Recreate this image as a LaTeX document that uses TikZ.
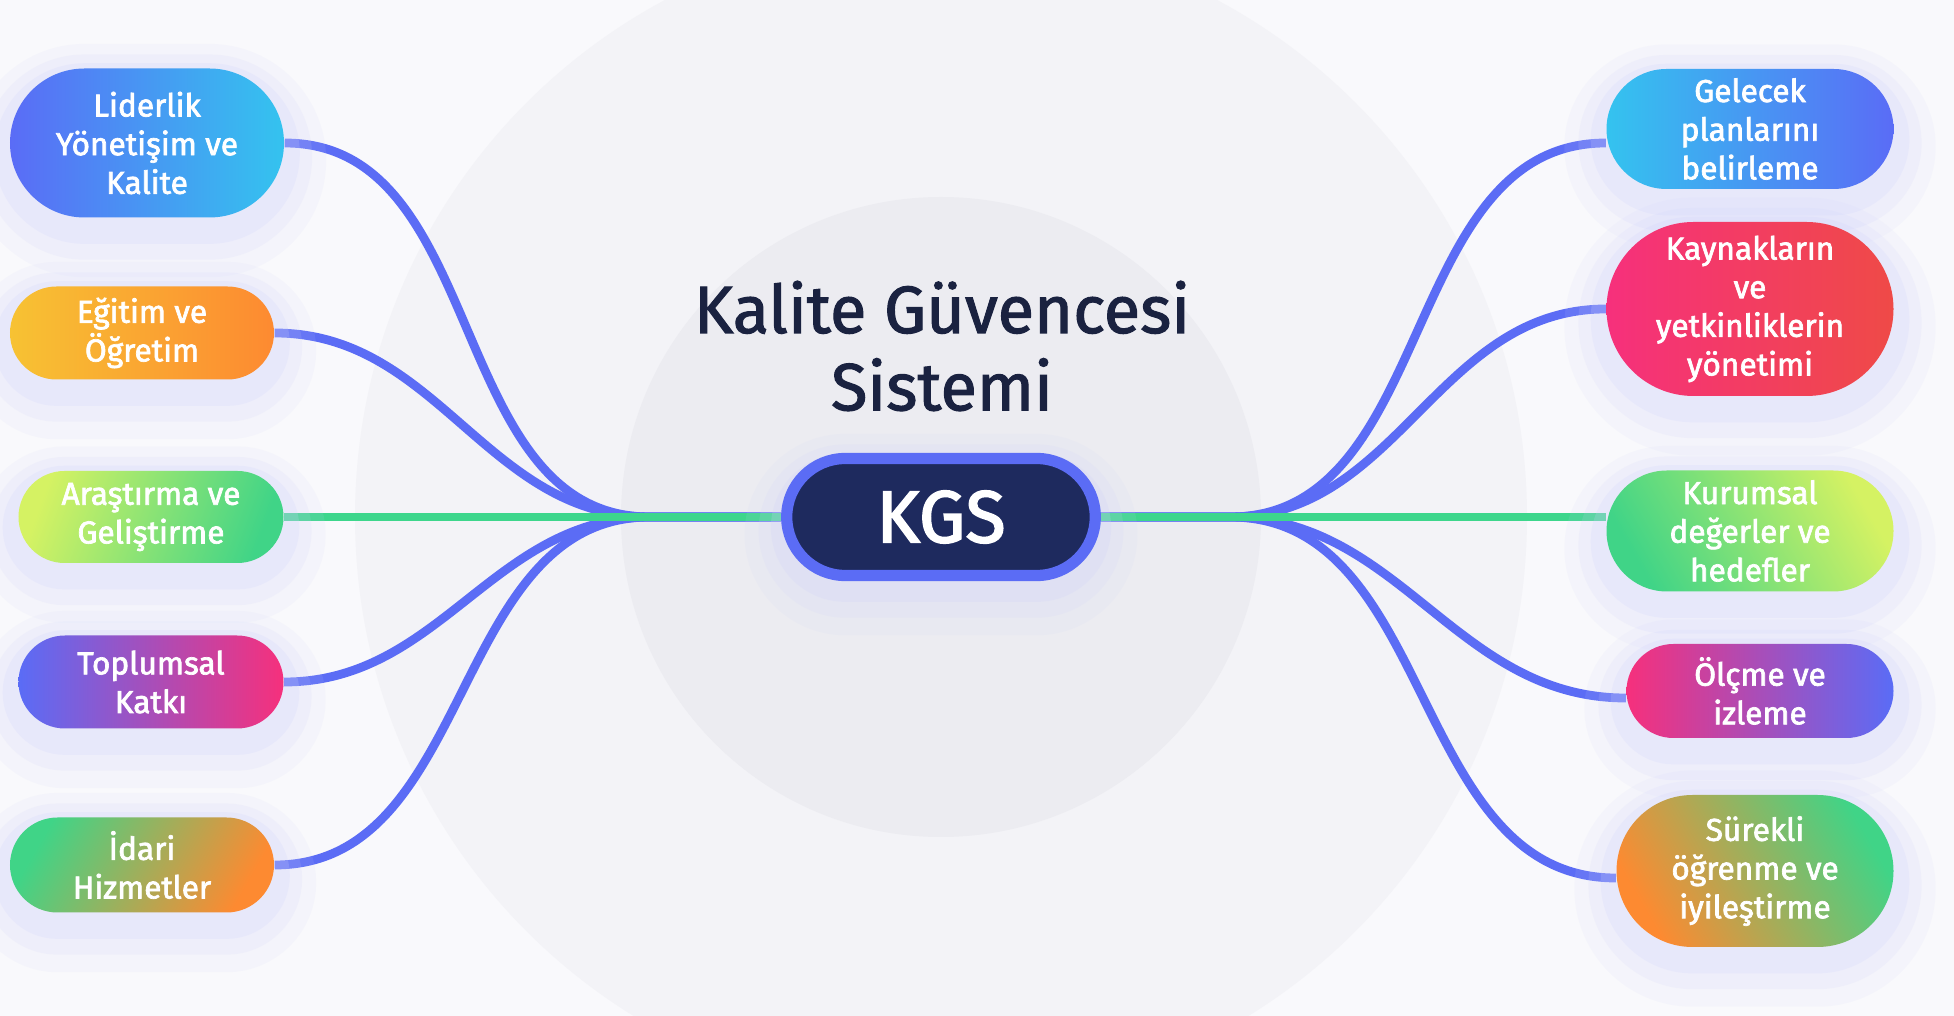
\documentclass[tikz,border=0pt]{standalone}
\usepackage{fontspec}
\setmainfont{Fira Sans}
\newfontfamily\medfont{Fira Sans}[FakeBold=1.6]
\newfontfamily\semifont{Fira Sans}[FakeBold=2.2]
\usetikzlibrary{shapes.misc}
\definecolor{pagebg}{HTML}{F9F9FC}
\definecolor{ringout}{HTML}{F3F3F7}
\definecolor{ringin}{HTML}{ECECF1}
\definecolor{wireblue}{HTML}{5B6CF5}
\definecolor{wiregreen}{HTML}{3DD68C}
\definecolor{kgsnavy}{HTML}{1E2A5E}
\definecolor{titlenavy}{HTML}{1A2240}
\definecolor{glowcol}{HTML}{CDD0FA}
\definecolor{cBlue}{HTML}{5A6CF6}
\definecolor{cCyan}{HTML}{34C3EF}
\definecolor{cYellow}{HTML}{F7C233}
\definecolor{cOrange}{HTML}{FD8A31}
\definecolor{cLime}{HTML}{D5F263}
\definecolor{cGreen}{HTML}{40D487}
\definecolor{cPink}{HTML}{F6307C}
\definecolor{cRed}{HTML}{EF4A47}
\pgfdeclarelayer{bg}
\pgfsetlayers{bg,main}
\tikzset{
	glow/.style={preaction={draw=glowcol, line width=24pt, opacity=0.1, transform canvas={yshift=-5pt}},
		preaction={draw=glowcol, line width=16pt, opacity=0.14, transform canvas={yshift=-4pt}},
		preaction={draw=glowcol, line width=9pt, opacity=0.2, transform canvas={yshift=-3pt}}},
	topic/.style={shape=rounded rectangle, glow, inner sep=0pt, align=center, text=white,
		font=\semifont\fontsize{9}{11}\selectfont},
	wire/.style={draw=wireblue, line width=2.5pt},
}
\begin{document}
\begin{tikzpicture}
	\useasboundingbox (0,0) rectangle (19.54,10.16);
	% Centre: title and hub
	\node[text=titlenavy, align=center, font=\medfont\fontsize{19}{22}\selectfont] (title) at (9.42,6.70){Kalite Güvencesi\\Sistemi};
	\node[shape=rounded rectangle, glow, draw=wireblue, line width=3.2pt, fill=kgsnavy, minimum width=3.32cm, minimum height=1.17cm, text=white, font=\semifont\fontsize{21}{24}\selectfont] (kgs) at (9.41,4.99){KGS};
	% Left topics
	\node[topic, left color=cBlue, right color=cCyan, minimum width=2.74cm, minimum height=1.49cm] (lid) at (1.47,8.73){Liderlik\\Yönetişim ve\\Kalite};
	\node[topic, left color=cYellow, right color=cOrange, minimum width=2.64cm, minimum height=0.93cm] (egt) at (1.42,6.83){Eğitim ve\\Öğretim};
	\node[topic, left color=cLime, right color=cGreen, shading angle=70, minimum width=2.65cm, minimum height=0.92cm] (ars) at (1.51,4.99){Araştırma ve\\Geliştirme};
	\node[topic, left color=cBlue, right color=cPink, minimum width=2.65cm, minimum height=0.93cm] (top) at (1.51,3.34){Toplumsal\\Katkı};
	\node[topic, left color=cGreen, right color=cOrange, shading angle=60, minimum width=2.64cm, minimum height=0.95cm] (ida) at (1.42,1.51){İdari\\Hizmetler};
	% Right topics
	\node[topic, left color=cCyan, right color=cBlue, minimum width=2.87cm, minimum height=1.20cm] (gel) at (17.50,8.87){Gelecek\\planlarını\\belirleme};
	\node[topic, left color=cPink, right color=cRed, minimum width=2.87cm, minimum height=1.74cm] (kay) at (17.50,7.07){Kaynakların\\ve\\yetkinliklerin\\yönetimi};
	\node[topic, left color=cGreen, right color=cLime, shading angle=120, minimum width=2.87cm, minimum height=1.21cm] (kur) at (17.50,4.85){Kurumsal\\değerler ve\\hedefler};
	\node[topic, left color=cPink, right color=cBlue, minimum width=2.67cm, minimum height=0.94cm] (olc) at (17.60,3.25){Ölçme ve\\izleme};
	\node[topic, left color=cOrange, right color=cGreen, shading angle=120, minimum width=2.77cm, minimum height=1.52cm] (sur) at (17.55,1.45){Sürekli\\öğrenme ve\\iyileştirme};
	\begin{pgfonlayer}{bg}
		\fill[pagebg] (0,0) rectangle (19.54,10.16);
		\begin{scope}
			\clip (0,0) rectangle (19.54,10.16);
			\fill[ringout] (kgs.center) circle (5.86);
		\end{scope}
		\fill[ringin] (kgs.center) circle (3.2);
		% Wires
		\coordinate (hubL) at (6.5,4.99);
		\coordinate (hubR) at (12.3,4.99);
		\foreach \t in {lid,egt,top,ida}
			\draw[wire] (\t.east) to[out=0,in=180] (hubL) -- (kgs.west);
		\draw[wire] (kgs.east) -- (hubR) to[out=0,in=180] ([yshift=-0.14cm]gel.west);
		\draw[wire] (kgs.east) -- (hubR) to[out=0,in=180] (kay.west);
		\draw[wire] (kgs.east) -- (hubR) to[out=0,in=180] ([yshift=-0.07cm]olc.west);
		\draw[wire] (kgs.east) -- (hubR) to[out=0,in=180] ([yshift=-0.07cm]sur.west);
		\draw[wire, draw=wiregreen] (ars.east) -- (kgs.west);
		\draw[wire, draw=wiregreen] (kgs.east) -- ([yshift=0.14cm]kur.west);
	\end{pgfonlayer}
\end{tikzpicture}
\end{document}
